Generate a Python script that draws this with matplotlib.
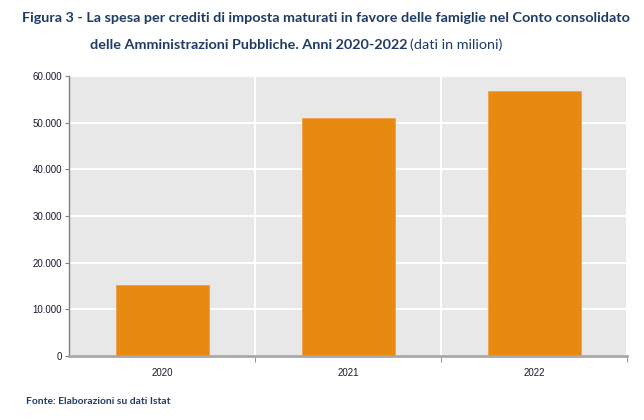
import matplotlib
matplotlib.use("Agg")
import matplotlib.pyplot as plt
from matplotlib.ticker import FuncFormatter, FixedLocator

years = ["2020", "2021", "2022"]
values = [15300, 51100, 56700]
yticks = [0, 10000, 20000, 30000, 40000, 50000, 60000]

W, H = 644, 420
fig = plt.figure(figsize=(W / 100, H / 100), dpi=100)
ax = fig.add_axes([69 / W, 1 - 356 / H, (627 - 69) / W, (356 - 76) / H])
ax.set_facecolor("#E8E8E8")

x = list(range(len(years)))
ax.bar(x, values, width=0.5, color="#E98A10", edgecolor="#EDA04A", linewidth=0.6, zorder=3)

ax.set_xlim(-0.5, len(years) - 0.5)
ax.set_ylim(0, 60000)
ax.set_yticks(yticks)
ax.yaxis.set_major_formatter(FuncFormatter(lambda v, p: f"{int(v):,}".replace(",", ".")))
ax.set_xticks(x)
ax.set_xticklabels(years)
ax.xaxis.set_minor_locator(FixedLocator([i + 0.5 for i in x]))

ax.grid(axis="y", color="white", linewidth=1.5, zorder=1)
ax.grid(axis="x", which="minor", color="white", linewidth=1.5, zorder=1)
ax.grid(axis="x", which="major", visible=False)

for s in ["top", "right"]:
    ax.spines[s].set_visible(False)
ax.spines["left"].set_color("#808080")
ax.spines["left"].set_linewidth(1.0)
ax.spines["bottom"].set_color("#A8A8A8")
ax.spines["bottom"].set_linewidth(2.0)
ax.spines["bottom"].set_zorder(4)

ax.tick_params(axis="y", length=3, color="#808080", labelsize=7, labelcolor="#1A1A33", pad=2)
ax.tick_params(axis="x", which="major", length=0, labelsize=7, labelcolor="#1A1A33", pad=9)
ax.tick_params(axis="x", which="minor", length=4, color="#808080", direction="out")
for lab in ax.get_xticklabels() + ax.get_yticklabels():
    lab.set_fontfamily("Liberation Sans")

title_color = "#1F3B66"
tfont = "Lato"
tsize = 10.35
fig.text(22 / W, 1 - 18 / H,
         "Figura 3 - La spesa per crediti di imposta maturati in favore delle famiglie nel Conto consolidato",
         fontsize=tsize, fontweight="bold", color=title_color, family=tfont,
         ha="left", va="center")
t2 = fig.text(90 / W, 1 - 45 / H, "delle Amministrazioni Pubbliche. Anni 2020-2022",
              fontsize=tsize, fontweight="bold", color=title_color, family=tfont,
              ha="left", va="center")
fig.canvas.draw()
bb = t2.get_window_extent(fig.canvas.get_renderer())
fig.text(bb.x1 / W + 3 / W, 1 - 45 / H, "(dati in milioni)",
         fontsize=tsize, color=title_color, family=tfont, ha="left", va="center")

fig.text(26 / W, 1 - 402 / H, "Fonte: Elaborazioni su dati Istat",
         fontsize=7.4, fontweight="bold", color=title_color, family=tfont,
         ha="left", va="center")

fig.savefig("out.png", dpi=100)
